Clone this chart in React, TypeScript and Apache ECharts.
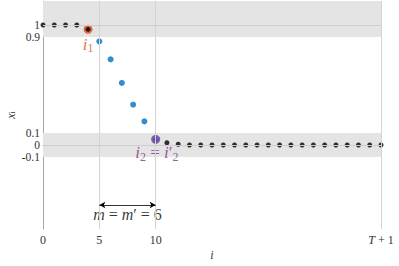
import React, { useEffect, useRef } from "react";
import * as echarts from "echarts";

// x_i for i = 0 .. T+1 (T+1 = 30)
const xValues = [
  1, 1, 1, 1, 0.964, 0.864, 0.714, 0.517, 0.336, 0.197, 0.047, 0.019, 0.006,
  0, 0, 0, 0, 0, 0, 0, 0, 0, 0, 0, 0, 0, 0, 0, 0, 0, 0,
];
const blueIdx = [5, 6, 7, 8, 9, 10];
const i1 = 4;
const i2 = 10;
const yTickLabels = ["-0.1", "0", "0.1", "0.9", "1"];
const xTickLabels: Record<string, string> = { "0": "0", "5": "5", "10": "10", "30": "{it|T} + 1" };
const vLines = [5, 10, 30];
const hLines = [0, 1];
const bands = [
  [-0.1, 0.1],
  [0.9, 1.2],
];
const m = 6;

const SERIF = "'Liberation Serif', 'DejaVu Serif', serif";
const BLUE = "#0072BD";
const ORANGE = "#D95319";
const PURPLE = "#7E2F8E";

export default function App() {
  const ref = useRef<HTMLDivElement>(null);
  useEffect(() => {
    const chart = echarts.init(ref.current!, null, { renderer: "svg" });
    const idx = xValues.map((_, i) => i);
    const blackPts = idx.filter((i) => !blueIdx.includes(i)).map((i) => [i, xValues[i]]);
    const bluePts = blueIdx.map((i) => [i, xValues[i]]);
    const mathRich = (color: string, size: number, subPad?: number) => ({
      it: { fontFamily: SERIF, fontStyle: "italic", fontSize: size, color },
      n: { fontFamily: SERIF, fontSize: size, color },
      sub: {
        fontFamily: SERIF,
        fontSize: Math.round(size * 0.7),
        color,
        padding: [subPad ?? Math.round(size * 0.45), 0, 0, 0],
      },
    });
    chart.setOption({
      animation: false,
      textStyle: { fontFamily: SERIF },
      grid: { left: 43, right: 18, top: 1, bottom: 37, containLabel: false, outerBoundsMode: "none" },
      xAxis: {
        type: "value",
        min: 0,
        max: 30,
        interval: 5,
        name: "i",
        nameLocation: "middle",
        nameGap: 20,
        nameMoveOverlap: false,
        nameTextStyle: { fontFamily: SERIF, fontStyle: "italic", fontSize: 12, color: "#333" },
        axisLine: { lineStyle: { color: "#a6a6a6" } },
        axisTick: { show: false },
        splitLine: { show: false },
        axisLabel: {
          margin: 5,
          fontFamily: SERIF,
          fontSize: 12,
          color: "#333",
          formatter: (v: number) => xTickLabels[String(Math.round(v))] ?? "",
          rich: {
            it: { fontFamily: SERIF, fontStyle: "italic", fontSize: 12, color: "#333" },
          },
        },
      },
      yAxis: {
        type: "value",
        min: -0.7,
        max: 1.2,
        interval: 0.1,
        name: "{it|x}{sub|i}",
        nameLocation: "middle",
        nameGap: 26,
        nameRotate: 90,
        nameMoveOverlap: false,
        nameTextStyle: { rich: mathRich("#333", 12, 3) },
        axisLine: { show: true, lineStyle: { color: "#a6a6a6" } },
        axisTick: { show: false },
        splitLine: { show: false },
        axisLabel: {
          margin: 3,
          fontFamily: SERIF,
          fontSize: 11.5,
          lineHeight: 11,
          color: "#333",
          formatter: (v: number) => {
            const s = String(Math.round(v * 10) / 10);
            return yTickLabels.includes(s) ? s : "";
          },
        },
      },
      series: [
        {
          type: "scatter",
          silent: true,
          data: [],
          markArea: {
            silent: true,
            label: { show: false },
            itemStyle: { color: "#e4e4e4" },
            data: bands.map((b) => [{ yAxis: b[0] }, { yAxis: b[1] }]),
          },
          markLine: {
            silent: true,
            symbol: "none",
            label: { show: false },
            lineStyle: { color: "#d4d4d4", type: "solid", width: 1 },
            data: [
              ...vLines.map((x) => ({ xAxis: x })),
              ...hLines.map((y) => ({ yAxis: y, lineStyle: { color: "#cdcdcd" } })),
            ],
          },
        },
        {
          type: "scatter",
          silent: true,
          data: [],
          markLine: {
            silent: true,
            symbol: ["arrow", "arrow"],
            symbolSize: [5, 6],
            label: { show: false },
            lineStyle: { color: "#000", type: "solid", width: 0.8 },
            data: [[{ coord: [i2 - m + 1, -0.5] }, { coord: [i2, -0.5] }]],
          },
        },
        {
          type: "scatter",
          symbolSize: 9,
          itemStyle: { color: ORANGE },
          data: [[i1, xValues[i1]]],
        },
        {
          type: "scatter",
          symbolSize: 9,
          itemStyle: { color: PURPLE },
          data: [[i2, xValues[i2]]],
        },
        {
          type: "scatter",
          symbolSize: 6,
          itemStyle: { color: BLUE },
          data: bluePts.map((p) => (p[0] === i2 ? { value: p, symbolSize: 5 } : p)),
        },
        {
          type: "scatter",
          symbolSize: 5,
          itemStyle: { color: "#000" },
          data: blackPts,
        },
        {
          type: "scatter",
          symbolSize: 0,
          silent: true,
          data: [
            {
              value: [i1, 0.84],
              label: { formatter: "{it|i}{sub|1}", rich: mathRich(ORANGE, 17) },
            },
            {
              value: [i2 + 0.1, -0.065],
              label: { formatter: "{it|i}{sub|2}{n| = }{it|i}{n|′}{sub|2}", rich: mathRich(PURPLE, 17) },
            },
            {
              value: [i2 - m / 2 + 0.5, -0.58],
              label: { formatter: "{it|m}{n| = }{it|m}{n|′ = " + m + "}", rich: mathRich("#000", 16) },
            },
          ],
          label: { show: true, position: "inside" },
        },
      ],
    });
    return () => chart.dispose();
  }, []);
  return <div ref={ref} style={{ width: 399, height: 266, position: "absolute", left: 0, top: 0 }} />;
}
